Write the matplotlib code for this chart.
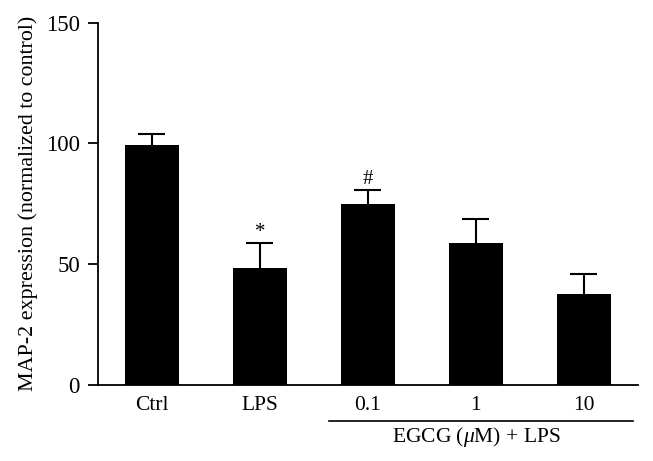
import matplotlib
matplotlib.use("Agg")
import matplotlib.pyplot as plt
import matplotlib.transforms as mtransforms

# MAP-2 expression, values
groups = ["Ctrl", "LPS", "0.1", "1", "10"]
means = [99.2, 48.5, 74.8, 58.6, 37.7]
sem = [4.8, 10.2, 5.9, 9.9, 8.3]
marks = ["", "*", "#", "", ""]

plt.rcParams["font.family"] = ["Liberation Serif", "DejaVu Serif"]
plt.rcParams["mathtext.fontset"] = "custom"
plt.rcParams["mathtext.it"] = "Liberation Serif:italic"
plt.rcParams["mathtext.rm"] = "Liberation Serif"

fig = plt.figure(figsize=(6.53, 4.61), dpi=100)
ax = fig.add_axes([0.150, 0.165, 0.827, 0.786])

x = list(range(len(groups)))
tops = [m + s for m, s in zip(means, sem)]
ax.bar(x, means, width=0.5, color="black", zorder=2)
# upper error bars only
ax.vlines(x, means, tops, color="black", lw=1.5, zorder=1)
ax.hlines(tops, [xi - 0.125 for xi in x], [xi + 0.125 for xi in x],
          color="black", lw=1.5, zorder=1)

for xi, t, tp in zip(x, marks, tops):
    if t:
        ax.text(xi, tp + 2.5, t, ha="center", va="baseline", fontsize=15)

ax.set_xlim(-0.5, 4.5)
ax.set_ylim(0, 150)
ax.set_yticks([0, 50, 100, 150])
ax.set_xticks(x)
ax.set_xticklabels(groups)
ax.tick_params(axis="x", length=0, pad=8, labelsize=15.5)
ax.tick_params(axis="y", length=7, width=1.3, direction="out", labelsize=16.5, pad=6)
ax.spines["top"].set_visible(False)
ax.spines["right"].set_visible(False)
ax.spines["left"].set_linewidth(1.3)
ax.spines["bottom"].set_linewidth(1.3)
ax.set_ylabel("MAP-2 expression (normalized to control)", fontsize=15.8, labelpad=6)

# group bracket under the EGCG bars
trans = mtransforms.blended_transform_factory(ax.transData, ax.transAxes)
ax.plot([1.636, 4.45], [-0.0985, -0.0985], color="black", lw=1.2,
        transform=trans, clip_on=False)
ax.text(3.0, -0.143, r"EGCG ($\mu$M) + LPS", ha="center", va="center",
        fontsize=15.5, transform=trans)

fig.savefig("out.png", dpi=100)
